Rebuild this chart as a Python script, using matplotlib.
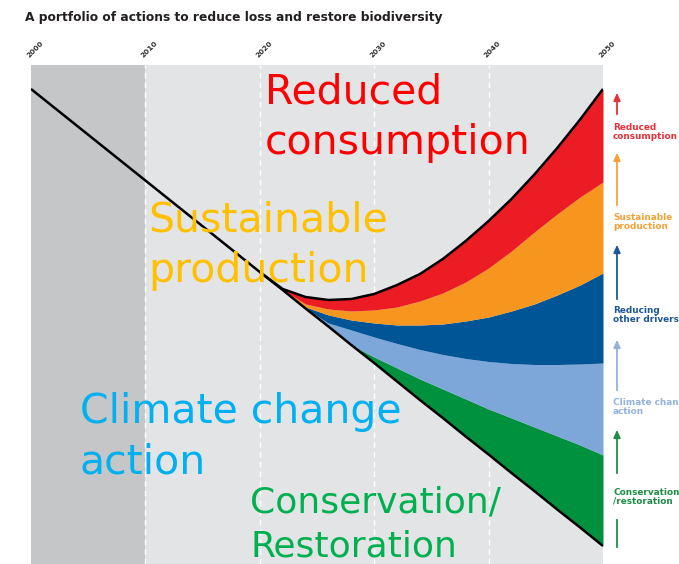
import matplotlib
matplotlib.use("Agg")
import matplotlib.pyplot as plt

W, H = 679, 564

# ---- data (index of biodiversity) ----
trend_years = [2000, 2010, 2020, 2022, 2024, 2026, 2028, 2030, 2032, 2034,
               2036, 2038, 2040, 2042, 2044, 2046, 2048, 2050]
trend = [95.0, 76.7, 58.4, 54.8, 51.1, 47.5, 43.8, 40.2, 36.5, 32.8,
         29.2, 25.5, 21.9, 18.2, 14.6, 10.9, 7.3, 3.6]

future_years = [2020, 2022, 2024, 2026, 2028, 2030, 2032, 2034,
                2036, 2038, 2040, 2042, 2044, 2046, 2048, 2050]
business_as_usual = trend[2:]
conservation_top = [58.4, 54.8, 51.1, 47.5, 43.8, 41.4, 39.2, 37.0,
                    35.0, 33.0, 31.0, 29.2, 27.4, 25.6, 23.8, 21.8]
climate_top = [58.4, 54.8, 51.1, 48.2, 46.8, 45.4, 44.1, 42.9,
               41.9, 41.1, 40.5, 40.1, 39.9, 39.9, 40.0, 40.2]
drivers_top = [58.4, 54.8, 51.4, 49.8, 48.8, 48.2, 47.8, 47.8,
               48.0, 48.6, 49.4, 50.6, 52.0, 53.8, 55.8, 58.2]
production_top = [58.4, 54.8, 52.0, 51.0, 50.6, 50.8, 51.4, 52.6,
                  54.2, 56.4, 59.2, 62.6, 66.4, 70.0, 73.4, 76.4]
consumption_top = [58.4, 55.0, 53.4, 52.8, 53.0, 54.0, 55.8, 58.0,
                   61.0, 64.6, 68.6, 73.0, 77.9, 83.2, 88.9, 95.0]

tick_years = [2000, 2010, 2020, 2030, 2040, 2050]
tick_labels = ["2000", "2010", "2020", "2030", "2040", "2050"]

band_names = ["Conservation\n/restoration", "Climate change\naction",
              "Reducing\nother drivers", "Sustainable\nproduction",
              "Reduced\nconsumption"]
band_colors = ["#00913f", "#7ca7d8", "#005596", "#f7961f", "#ec1c24"]
label_colors = ["#1f8d46", "#92b2dc", "#1d5895", "#f3a23a", "#e6313b"]

fig = plt.figure(figsize=(W / 100, H / 100), dpi=100)
fig.patch.set_facecolor("white")

def fx(px):
    return px / W

def fy(py):
    return 1 - py / H

ax = fig.add_axes([fx(31), 0, fx(603) - fx(31), (564 - 65) / H])
ax.set_xlim(2000, 2050)
ax.set_ylim(0, 99.8)
ax.axis("off")

ax.axvspan(2000, 2010, color="#c5c6c8", lw=0, zorder=0)
ax.axvspan(2010, 2050, color="#e3e4e6", lw=0, zorder=0)
for yr in tick_years[1:-1]:
    ax.axvline(yr, color="white", lw=1.0, ls=(0, (4, 3)), zorder=1)

bounds = [business_as_usual, conservation_top, climate_top, drivers_top,
          production_top, consumption_top]
for i in range(5):
    ax.fill_between(future_years, bounds[i], bounds[i + 1],
                    color=band_colors[i], lw=0, zorder=2)

ax.plot(trend_years, trend, color="black", lw=1.8, zorder=3,
        solid_capstyle="butt")
ax.plot(future_years, consumption_top, color="black", lw=1.8, zorder=3,
        solid_capstyle="butt", solid_joinstyle="round")

for yr, lab in zip(tick_years, tick_labels):
    ax.text(yr + 0.35, 1.012, lab, transform=ax.get_xaxis_transform(),
            rotation=45, ha="center", va="bottom", fontsize=5.3,
            fontweight="bold", color="#333333", clip_on=False)

fig.text(fx(25), fy(17), "A portfolio of actions to reduce loss and restore biodiversity",
         ha="left", va="center", fontsize=8.8, fontweight="bold", color="#231f20")

# right-hand arrows & labels
arrows = [(476, 427), (393, 337), (302, 242), (208, 150), (117, 90)]
label_tops = [488, 398, 306, 213, 123]
for i in range(5):
    y0, y1 = arrows[i]
    fig.patches.append(matplotlib.patches.FancyArrowPatch(
        (fx(617), fy(y0)), (fx(617), fy(y1)), transform=fig.transFigure,
        arrowstyle="-|>,head_length=4.5,head_width=2.0", color=label_colors[i],
        lw=1.3, mutation_scale=1))
    fig.text(fx(613), fy(label_tops[i]), band_names[i], ha="left", va="top",
             fontsize=6.4, fontweight="bold", color=label_colors[i],
             linespacing=1.0, clip_on=True)
fig.lines.append(matplotlib.lines.Line2D([fx(617), fx(617)], [fy(520), fy(547)],
                 transform=fig.transFigure, color=label_colors[0], lw=1.3))

# big overlay labels
big = [("Reduced\nconsumption", 265, 72, "#ff0000", 29.5),
       ("Sustainable\nproduction", 148, 200, "#ffc000", 29.5),
       ("Climate change\naction", 80, 392, "#00b0f0", 29.5),
       ("Conservation/\nRestoration", 250, 486, "#00b050", 26)]
for txt, x, y, c, fs in big:
    fig.text(fx(x), fy(y), txt, ha="left", va="top", fontsize=fs,
             color=c, linespacing=1.35)

fig.savefig("out.png", dpi=100)
